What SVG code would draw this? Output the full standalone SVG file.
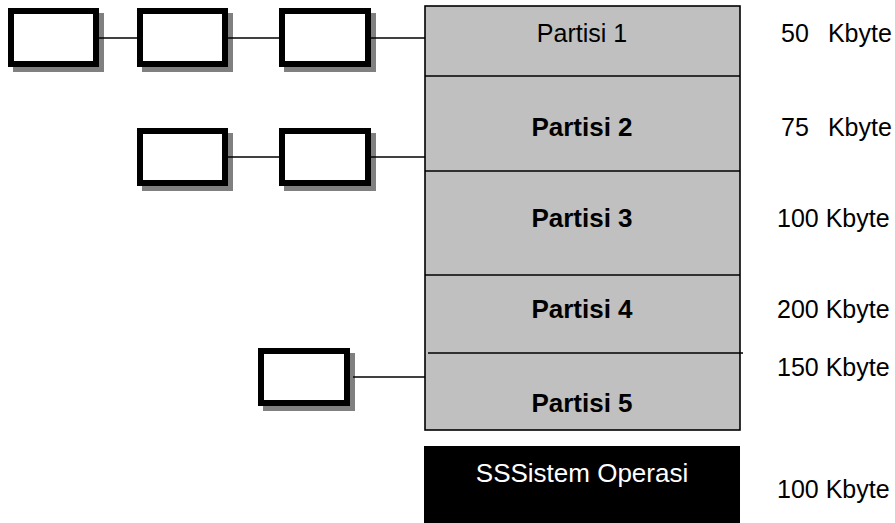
<svg xmlns="http://www.w3.org/2000/svg" width="895" height="523" viewBox="0 0 895 523">
<style>
.box{fill:#fff;stroke:#000;stroke-width:6}
.sh{fill:#808080}
.mem{fill:#c0c0c0;stroke:#000;stroke-width:1.6}
.sep{stroke:#000;stroke-width:1.6}
.conn{stroke:#000;stroke-width:1.6;fill:none}
.t{font-family:"Liberation Sans",Arial,sans-serif;font-size:25px;fill:#000}
.b{font-weight:bold;text-anchor:middle;font-size:26px}
.c{text-anchor:middle}
</style>
<rect width="895" height="523" fill="#fff"/>
<g id="memory">
<rect class="mem" x="425" y="6" width="315" height="424"/>
<line class="sep" x1="425" y1="76" x2="740" y2="76"/>
<line class="sep" x1="425" y1="171" x2="740" y2="171"/>
<line class="sep" x1="425" y1="275" x2="740" y2="275"/>
<line class="sep" x1="428" y1="353" x2="743" y2="353"/>
</g>
<g id="p1"><text class="t c" x="582" y="42">Partisi 1</text></g>
<g id="p2"><text class="t b" x="582" y="136">Partisi 2</text></g>
<g id="p3"><text class="t b" x="582" y="227">Partisi 3</text></g>
<g id="p4"><text class="t b" x="582" y="318">Partisi 4</text></g>
<g id="p5"><text class="t b" x="582" y="412">Partisi 5</text></g>
<g id="os">
<rect x="424" y="446" width="316" height="77" fill="#000"/>
<text class="t c" x="582" y="482" fill="#fff" style="fill:#fff;font-size:26px">SSSistem Operasi</text>
</g>
<g id="sizes">
<text class="t" y="42"><tspan x="781">50</tspan><tspan x="821"> Kbyte</tspan></text>
<text class="t" y="136"><tspan x="781">75</tspan><tspan x="821"> Kbyte</tspan></text>
<text class="t" x="777" y="227">100 Kbyte</text>
<text class="t" x="777" y="318">200 Kbyte</text>
<text class="t" x="777" y="376">150 Kbyte</text>
<text class="t" x="777" y="498">100 Kbyte</text>
</g>
<g id="b1"><rect class="sh" x="13" y="13" width="91" height="59"/><rect class="box" x="11" y="11" width="85" height="53"/></g>
<g id="b2"><rect class="sh" x="142" y="13" width="91" height="59"/><rect class="box" x="140" y="11" width="85" height="53"/></g>
<g id="b3"><rect class="sh" x="284" y="13" width="92" height="59"/><rect class="box" x="282" y="11" width="86" height="53"/></g>
<g id="b4"><rect class="sh" x="142" y="133" width="91" height="58"/><rect class="box" x="140" y="131" width="85" height="52"/></g>
<g id="b5"><rect class="sh" x="284" y="133" width="92" height="58"/><rect class="box" x="282" y="131" width="86" height="52"/></g>
<g id="b6"><rect class="sh" x="263" y="353" width="92" height="58"/><rect class="box" x="261" y="351" width="86" height="52"/></g>
<g id="connectors">
<line class="conn" x1="99" y1="38" x2="137" y2="38"/>
<line class="conn" x1="228" y1="38" x2="279" y2="38"/>
<line class="conn" x1="371" y1="38" x2="425" y2="38"/>
<line class="conn" x1="228" y1="157" x2="279" y2="157"/>
<line class="conn" x1="371" y1="157" x2="425" y2="157"/>
<line class="conn" x1="353" y1="377" x2="425" y2="377"/>
</g>
</svg>
